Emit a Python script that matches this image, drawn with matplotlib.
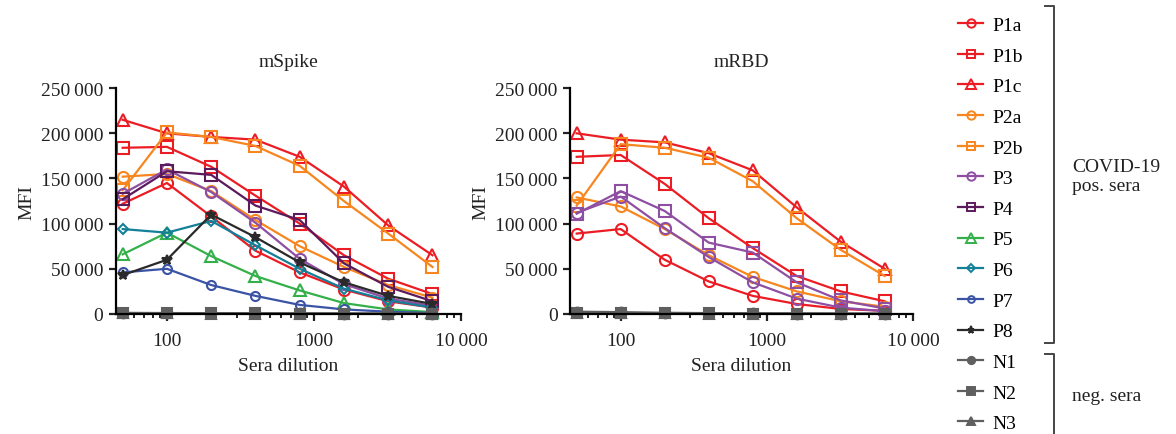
import numpy as np
import matplotlib.pyplot as plt
from matplotlib.lines import Line2D
from matplotlib.ticker import FuncFormatter, FixedLocator, LogLocator, NullFormatter

plt.rcParams['font.family'] = ['Liberation Serif', 'DejaVu Serif']
plt.rcParams['font.size'] = 14

dilution = [50, 100, 200, 400, 800, 1600, 3200, 6400]

# mSpike panel
spike_P1a = [122000, 145000, 108000, 70000, 46000, 27000, 14000, 7000]
spike_P1b = [184000, 185000, 163000, 131000, 100000, 65000, 39000, 22000]
spike_P1c = [215000, 200000, 196000, 193000, 174000, 141000, 98000, 65000]
spike_P2a = [152000, 155000, 136000, 104000, 75000, 52000, 32000, 18000]
spike_P2b = [137000, 201000, 196000, 186000, 164000, 125000, 89000, 52000]
spike_P3 = [133000, 160000, 135000, 101000, 61000, 33000, 17000, 9000]
spike_P4 = [127000, 158000, 154000, 120000, 104000, 56000, 30000, 14000]
spike_P5 = [66000, 90000, 64000, 42000, 26000, 12000, 5000, 2000]
spike_P6 = [94000, 90000, 103000, 76000, 50000, 28000, 15000, 7000]
spike_P7 = [46000, 50000, 32000, 20000, 10000, 5000, 2500, 1000]
spike_P8 = [43000, 60000, 110000, 85000, 57000, 35000, 20000, 11000]
spike_N1 = [1200, 1000, 800, 600, 500, 400, 300, 200]
spike_N2 = [800, 700, 600, 500, 400, 300, 200, 150]
spike_N3 = [600, 500, 400, 350, 300, 250, 200, 150]

# mRBD panel
rbd_P1a = [89000, 94000, 60000, 36000, 20000, 11000, 5500, 3500]
rbd_P1b = [174000, 176000, 144000, 106000, 73000, 42000, 25000, 14000]
rbd_P1c = [200000, 193000, 190000, 178000, 159000, 118000, 80000, 50000]
rbd_P2a = [129000, 119000, 94000, 65000, 41000, 25000, 14000, 8000]
rbd_P2b = [120000, 188000, 184000, 173000, 147000, 106000, 71000, 42000]
rbd_P3 = [112000, 130000, 95000, 63000, 35000, 17000, 7000, 3000]
rbd_P4 = [111000, 136000, 114000, 79000, 68000, 35000, 15000, 6000]
rbd_N1 = [2500, 2000, 1300, 900, 600, 400, 300, 200]
rbd_N2 = [1000, 800, 600, 500, 400, 300, 200, 150]
rbd_N3 = [700, 600, 500, 400, 300, 250, 200, 150]

labels = ['P1a', 'P1b', 'P1c', 'P2a', 'P2b', 'P3', 'P4', 'P5', 'P6', 'P7', 'P8', 'N1', 'N2', 'N3']

RED = '#ec1c24'
ORANGE = '#f7861f'
PURPLE = '#8e4fa3'
DARKPURPLE = '#5b1a5b'
GREEN = '#34b04a'
TEAL = '#138098'
BLUE = '#3a53a4'
BLACK = '#2a2a2a'
GRAY = '#5f5f5f'

styles = {
    'P1a': dict(color=RED, marker='o', ms=8, mfc='none'),
    'P1b': dict(color=RED, marker='s', ms=8, mfc='none'),
    'P1c': dict(color=RED, marker='^', ms=9, mfc='none'),
    'P2a': dict(color=ORANGE, marker='o', ms=8, mfc='none'),
    'P2b': dict(color=ORANGE, marker='s', ms=8, mfc='none'),
    'P3': dict(color=PURPLE, marker='o', ms=8, mfc='none'),
    'P4': dict(color=DARKPURPLE, marker='s', ms=8, mfc='none'),
    'P5': dict(color=GREEN, marker='^', ms=9, mfc='none'),
    'P6': dict(color=TEAL, marker='D', ms=5.5, mfc='none'),
    'P7': dict(color=BLUE, marker='o', ms=6.5, mfc='none'),
    'P8': dict(color=BLACK, marker='*', ms=7, mfc=BLACK),
    'N1': dict(color=GRAY, marker='o', ms=7, mfc=GRAY),
    'N2': dict(color=GRAY, marker='s', ms=7, mfc=GRAY),
    'N3': dict(color=GRAY, marker='^', ms=7, mfc=GRAY),
}

spike = {'P1a': spike_P1a, 'P1b': spike_P1b, 'P1c': spike_P1c, 'P2a': spike_P2a,
         'P2b': spike_P2b, 'P3': spike_P3, 'P4': spike_P4, 'P5': spike_P5,
         'P6': spike_P6, 'P7': spike_P7, 'P8': spike_P8,
         'N1': spike_N1, 'N2': spike_N2, 'N3': spike_N3}
rbd = {'P1a': rbd_P1a, 'P1b': rbd_P1b, 'P1c': rbd_P1c, 'P2a': rbd_P2a,
       'P2b': rbd_P2b, 'P3': rbd_P3, 'P4': rbd_P4,
       'N1': rbd_N1, 'N2': rbd_N2, 'N3': rbd_N3}
# in the mRBD panel the P4 curve is drawn in the P3 colour
rbd_colors = {'P4': PURPLE}


def thousands(v, pos=None):
    v = int(round(v))
    if v < 10000:
        return str(v)
    return f"{v:,}".replace(',', '\u2009')


fig = plt.figure(figsize=(11.76, 4.35), dpi=100)
ax1 = fig.add_axes([0.0986, 0.276, 0.2934, 0.519])
ax2 = fig.add_axes([0.4847, 0.276, 0.2917, 0.519])

for ax, data, title in [(ax1, spike, 'mSpike'), (ax2, rbd, 'mRBD')]:
    for name, vals in data.items():
        st = dict(styles[name])
        if ax is ax2 and name in rbd_colors:
            st['color'] = rbd_colors[name]
        ax.plot(dilution, vals, lw=1.6, mew=1.5, clip_on=False, **st)
    ax.set_xscale('log')
    ax.set_xlim(45, 10000)
    ax.set_ylim(0, 250000)
    ax.set_yticks([0, 50000, 100000, 150000, 200000, 250000])
    ax.yaxis.set_major_formatter(FuncFormatter(thousands))
    ax.xaxis.set_major_locator(FixedLocator([100, 1000, 10000]))
    ax.xaxis.set_major_formatter(FuncFormatter(thousands))
    ax.xaxis.set_minor_locator(LogLocator(base=10, subs=np.arange(2, 10)))
    ax.xaxis.set_minor_formatter(NullFormatter())
    for s in ['top', 'right']:
        ax.spines[s].set_visible(False)
    for s in ['left', 'bottom']:
        ax.spines[s].set_linewidth(1.6)
        ax.spines[s].set_color('black')
    ax.tick_params(which='major', length=5, width=1.6, labelsize=14, pad=4, colors='#222222')
    ax.tick_params(which='minor', length=3, width=1.2)
    ax.tick_params(axis='x', which='major', pad=8)
    ax.set_title(title, fontsize=14, pad=16, color='#222222')
    ax.set_xlabel('Sera dilution', fontsize=14, labelpad=6, color='#222222')
    ax.set_ylabel('MFI', fontsize=14, labelpad=4, color='#222222')

handles = []
for name in labels:
    st = dict(styles[name])
    st['ms'] = st['ms'] * 0.75
    handles.append(Line2D([], [], lw=1.6, mew=1.4, **st))

fig.legend(handles, labels, loc='upper left', bbox_to_anchor=(0.808, 0.978),
           frameon=False, fontsize=14, handlelength=1.3, handletextpad=0.45,
           labelspacing=0.67, borderaxespad=0)

# brackets grouping positive and negative sera
bx = 1054 / 1176
tick = 9 / 1176
def y(px):
    return 1 - px / 435
fig.add_artist(Line2D([bx - tick, bx, bx, bx - tick], [y(7), y(7), y(344), y(344)],
                      color='#444444', lw=1.4))
fig.add_artist(Line2D([bx - tick, bx, bx], [y(355), y(355), y(436)],
                      color='#444444', lw=1.4))
fig.text(1072 / 1176, y(177), 'COVID-19\npos. sera', fontsize=14, va='center',
         ha='left', linespacing=1.2, color='#222222')
fig.text(1072 / 1176, y(397), 'neg. sera', fontsize=14, va='center', ha='left',
         color='#222222')

fig.savefig('out.png', dpi=100)
